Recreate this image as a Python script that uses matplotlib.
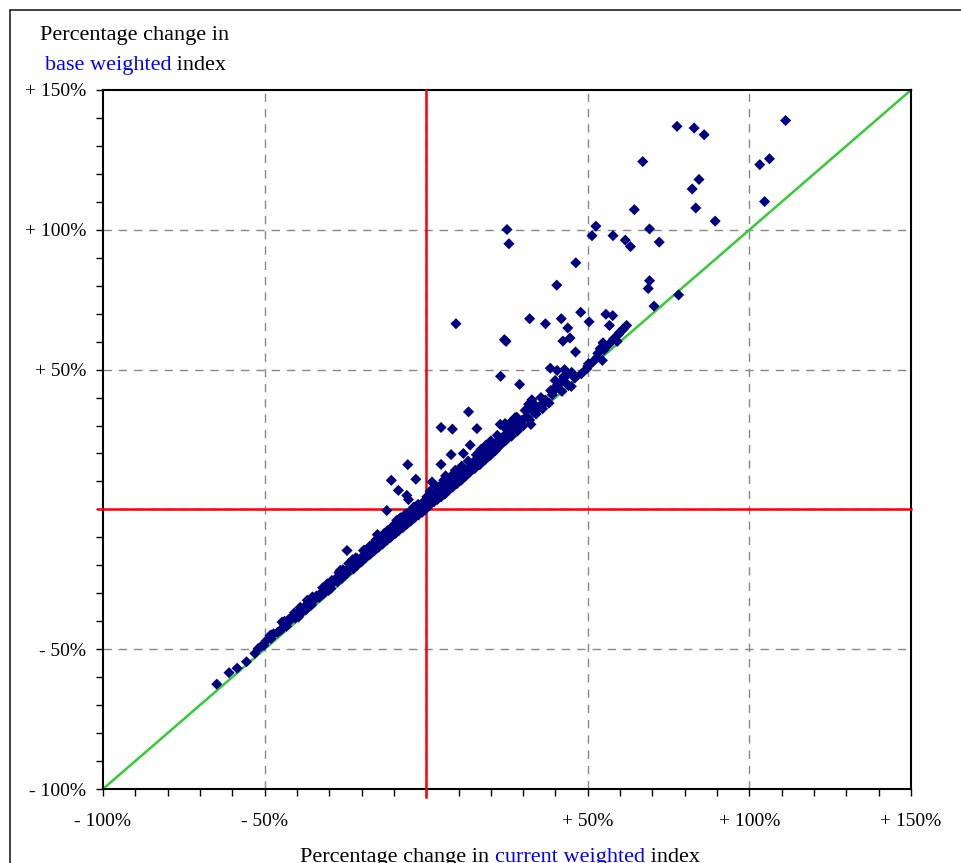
import matplotlib
matplotlib.use('Agg')
import matplotlib.pyplot as plt
from matplotlib.patches import Rectangle

plt.rcParams['font.family'] = ['Liberation Serif', 'DejaVu Serif']

# scattered items (current weighted %, base weighted %)
x_out = [77.6, 82.9, 86.0, 67.0, 103.2, 106.2, 111.2, 84.4, 82.3, 64.4, 83.4, 104.7,
         89.4, 69.1, 61.6, 63.2, 72.1, 52.5, 51.3, 57.8, 25.0, 25.6, 46.3, 69.1,
         68.7, 78.1, 70.5, 40.4, 32.0, 36.9, 41.8, 47.8, 50.4, 43.8, 55.6, 57.7,
         56.7, 60.5, 59.7, 9.2, 42.3, 44.5, 24.2, 24.7, 54.7, 59.1, 46.2, 53.8,
         53.1, 54.5, 50.2, 49.7, 38.4, 40.5, 42.8, 43.2, 23.0, 28.9, 39.9, 40.4,
         41.5, 44.9, 32.7, 31.7, 30.6, 36.8, 35.8, 13.1, 27.5, 29.6, 32.4, 22.9,
         24.4, 4.6, 8.1, 15.7, 26.0, 28.1, 22.9, 21.3, 13.6, 18.8, 18.3, 7.7,
         11.5, 14.6, 13.6, 16.2, 4.6, 11.5, 9.5, 7.4, 1.8, 5.4, 4.3, 1.2, 0.2,
         -5.7, -10.8, -3.2, -8.6, -6.0, -5.5, -12.2, -14.9, -24.5, -64.8, -61.0,
         -55.6, -51.1, -48.3, -44.6, -42.6, -39.5, -36.4, -34.9, -30.2, -29.2,
         -26.6, -24.0, -21.4, -19.4, -16.3, -15.1, -10.6, -9.1, -6.0, -3.9, -1.9]
y_out = [137.0, 136.4, 134.0, 124.4, 123.3, 125.4, 139.1, 118.0, 114.6, 107.2, 107.8, 110.1,
         103.1, 100.3, 96.3, 94.0, 95.6, 101.3, 97.9, 97.9, 100.1, 95.0, 88.2, 81.8,
         79.0, 76.7, 72.7, 80.2, 68.2, 66.4, 68.2, 70.5, 67.1, 64.9, 69.8, 69.3,
         65.8, 64.0, 63.1, 66.4, 60.2, 61.3, 60.7, 60.1, 59.6, 60.1, 56.3, 57.5,
         55.8, 53.3, 52.1, 50.3, 50.5, 49.7, 50.0, 47.6, 47.6, 44.7, 46.1, 44.3,
         45.4, 44.0, 39.2, 37.6, 35.4, 39.0, 37.2, 34.9, 32.8, 31.8, 30.4, 30.4,
         30.7, 29.3, 28.7, 28.9, 27.6, 28.9, 25.3, 23.5, 23.0, 21.7, 19.9, 19.6,
         20.0, 16.9, 15.1, 16.3, 16.1, 12.8, 12.2, 11.3, 9.8, 10.4, 8.0, 5.6, 3.2,
         16.0, 10.4, 10.8, 6.8, 5.0, 3.5, -0.4, -9.3, -14.7, -62.5, -58.4,
         -54.5, -49.0, -45.1, -42.7, -39.4, -38.5, -33.2, -31.9, -29.0, -25.4,
         -21.8, -19.4, -17.6, -14.7, -12.3, -9.0, -6.3, -3.9, -1.5, 0.8, 1.4]

# dense band close to the diagonal
x_band = [-58.5, -53.0, -50.2, -49.5, -48.0, -47.2, -46.0, -45.1, -44.0, -43.2, -42.0, -41.3,
          -40.5, -39.8, -38.7, -38.0, -37.2, -36.0, -35.5, -34.6, -34.0, -33.1, -32.5, -31.8,
          -31.0, -30.0, -29.5, -28.6, -28.0, -27.4, -26.5, -26.0, -25.2, -24.6, -24.0, -23.2,
          -22.5, -22.0, -21.3, -20.6, -20.0, -19.4, -18.7, -18.0, -17.4, -16.8, -16.0, -15.3,
          -14.7, -14.0, -13.5, -12.8, -12.1, -11.5, -11.0, -10.3, -9.6, -9.0, -8.5, -7.8,
          -7.2, -6.6, -6.0, -5.4, -4.8, -4.2, -3.6, -3.0, -2.4, -1.8, -1.2, -0.6, -0.2,
          -8.0, -6.5, -4.0, -2.5, -13.0, -17.5, -22.8, -27.0, -32.0, -36.8, -40.8, -44.6,
          -52.0, -47.8, -43.8, -39.0, -35.2, -30.6, -25.8, -21.8, -19.0, -15.6, -12.0, -9.8,
          -7.0, -5.0, -3.2, -1.0,
          0.6, 1.0, 1.5, 2.0, 2.5, 3.0, 3.5, 4.0, 4.6, 5.2, 5.8, 6.4, 7.0, 7.6, 8.2, 8.8,
          9.5, 10.2, 10.8, 11.5, 12.2, 12.8, 13.5, 14.2, 15.0, 15.8, 16.6, 17.4, 18.2, 19.0,
          19.8, 20.6, 21.4, 22.2, 23.0, 23.8, 24.6, 25.5, 26.4, 27.3, 28.2, 29.1, 30.0, 31.0,
          32.0, 33.0, 34.0, 35.0, 36.0, 37.0, 38.0, 39.0, 40.0, 41.0, 42.0, 43.0, 44.0, 46.0,
          48.0, 50.0, 51.5, 53.0, 55.0, 56.5, 58.0, 59.5, 61.0, 62.0, 1.2, 2.8, 6.0, 9.0,
          17.0, 20.0, 26.0, 33.5, 38.5,
          0.2, 1.8, 3.8, 5.5, 8.0, 11.0, 13.0, 15.5, 18.5, 22.0, 24.5, 28.0, 31.5, 35.5,
          42.5, 45.0]
y_band = [-56.8, -51.5, -48.6, -47.0, -46.2, -44.5, -44.0, -43.2, -41.0, -41.8, -39.6, -38.2,
          -38.9, -36.8, -37.1, -35.2, -35.9, -33.5, -34.2, -32.4, -31.0, -31.5, -29.8, -30.2,
          -28.1, -27.6, -28.3, -26.0, -24.8, -25.9, -23.6, -24.6, -22.1, -23.0, -21.2, -20.5,
          -21.3, -19.0, -19.9, -17.8, -18.7, -16.5, -17.2, -15.4, -16.1, -13.9, -14.7, -12.5,
          -13.5, -11.3, -12.4, -10.0, -11.0, -8.7, -10.0, -7.5, -8.7, -6.1, -7.6, -5.0,
          -6.5, -3.8, -5.3, -2.7, -4.2, -1.6, -3.0, -0.6, -2.0, 0.4, -1.0, 1.3, 0.0,
          -3.0, -1.8, 0.2, 1.8, -8.6, -13.2, -18.0, -22.6, -28.0, -32.5, -37.0, -40.3,
          -49.8, -44.9, -40.0, -35.0, -31.3, -26.6, -21.6, -17.3, -14.6, -11.0, -7.6, -5.4,
          -2.6, -0.8, 1.0, 2.5,
          1.5, 3.0, 2.0, 4.2, 2.8, 5.0, 3.6, 6.2, 4.5, 7.0, 5.5, 8.3, 6.9, 9.4, 8.0, 10.3,
          9.2, 11.8, 10.4, 13.2, 11.9, 14.4, 13.3, 16.0, 14.6, 17.4, 16.0, 18.9, 17.7, 20.8,
          19.3, 22.5, 21.0, 24.3, 23.0, 26.0, 24.6, 27.5, 26.2, 29.4, 28.0, 31.0, 29.9, 33.2,
          32.0, 35.0, 34.1, 36.8, 36.0, 39.0, 38.0, 41.0, 43.0, 44.5, 42.2, 45.5, 44.3, 47.0,
          48.5, 51.2, 52.7, 54.5, 57.0, 59.0, 61.0, 62.5, 64.5, 65.8, 6.5, 8.5, 12.0, 14.0,
          21.5, 24.5, 31.0, 37.5, 42.5,
          4.5, 5.5, 8.0, 9.5, 12.2, 15.5, 17.3, 19.5, 23.0, 26.5, 29.0, 33.0, 36.0, 40.0,
          47.5, 49.0]

ticks = [-100, -50, 0, 50, 100, 150]
tick_labels = ['- 100%', '- 50%', '', '+ 50%', '+ 100%', '+ 150%']

W, H = 962, 863
fig = plt.figure(figsize=(W / 100, H / 100), dpi=100)
ax = fig.add_axes([103 / W, 1 - 789 / H, 808 / W, 699 / H])

# figure frame
fig.patches.append(Rectangle((10 / W, -0.2), 1.2, 1.2 - 10 / H, transform=fig.transFigure,
                             fill=False, edgecolor='#222222', lw=1.2))

ax.set_xlim(-100, 150)
ax.set_ylim(-100, 150)

for v in [-50, 0, 50, 100]:
    ax.axvline(v, color='#888888', lw=1, ls=(0, (6, 5)), zorder=1)
    ax.axhline(v, color='#888888', lw=1, ls=(0, (6, 5)), zorder=1)

ax.plot([-100, 150], [-100, 150], color='#33cc33', lw=1.8, zorder=2, clip_on=False)
ax.plot([0, 0], [-103, 150], color='red', lw=1.8, zorder=3, clip_on=False)
ax.plot([-101.6, 150], [0, 0], color='red', lw=1.8, zorder=3, clip_on=False)

ax.scatter(x_band + x_out, y_band + y_out, marker='D', s=32, color='#000080',
           edgecolors='none', zorder=4)

ax.set_xticks(ticks)
ax.set_xticklabels(tick_labels)
ax.set_yticks(ticks)
ax.set_yticklabels(tick_labels)
ax.set_xticks(range(-100, 151, 10), minor=True)
ax.set_yticks(range(-100, 151, 10), minor=True)
ax.tick_params(which='both', direction='out', length=5, width=1, color='black')
ax.tick_params(axis='x', which='major', labelsize=14, pad=12)
ax.tick_params(axis='y', which='major', labelsize=14, pad=7)
for s in ax.spines.values():
    s.set_linewidth(1.5)


def colored_line(x0, y0, parts, size=16):
    fig.canvas.draw()
    r = fig.canvas.get_renderer()
    xp = x0
    for txt, col in parts:
        t = fig.text(xp / W, 1 - y0 / H, txt, color=col, fontsize=size, va='baseline', ha='left')
        bb = t.get_window_extent(renderer=r)
        xp += bb.width
    return xp


colored_line(40, 40, [('Percentage change in', 'black')])
colored_line(45, 70, [('base weighted', '#0000ff'), (' index', 'black')])
colored_line(300, 862, [('Percentage change in ', 'black'), ('current weighted', '#0000ff'),
                        (' index', 'black')])

fig.savefig('out.png', dpi=100)
